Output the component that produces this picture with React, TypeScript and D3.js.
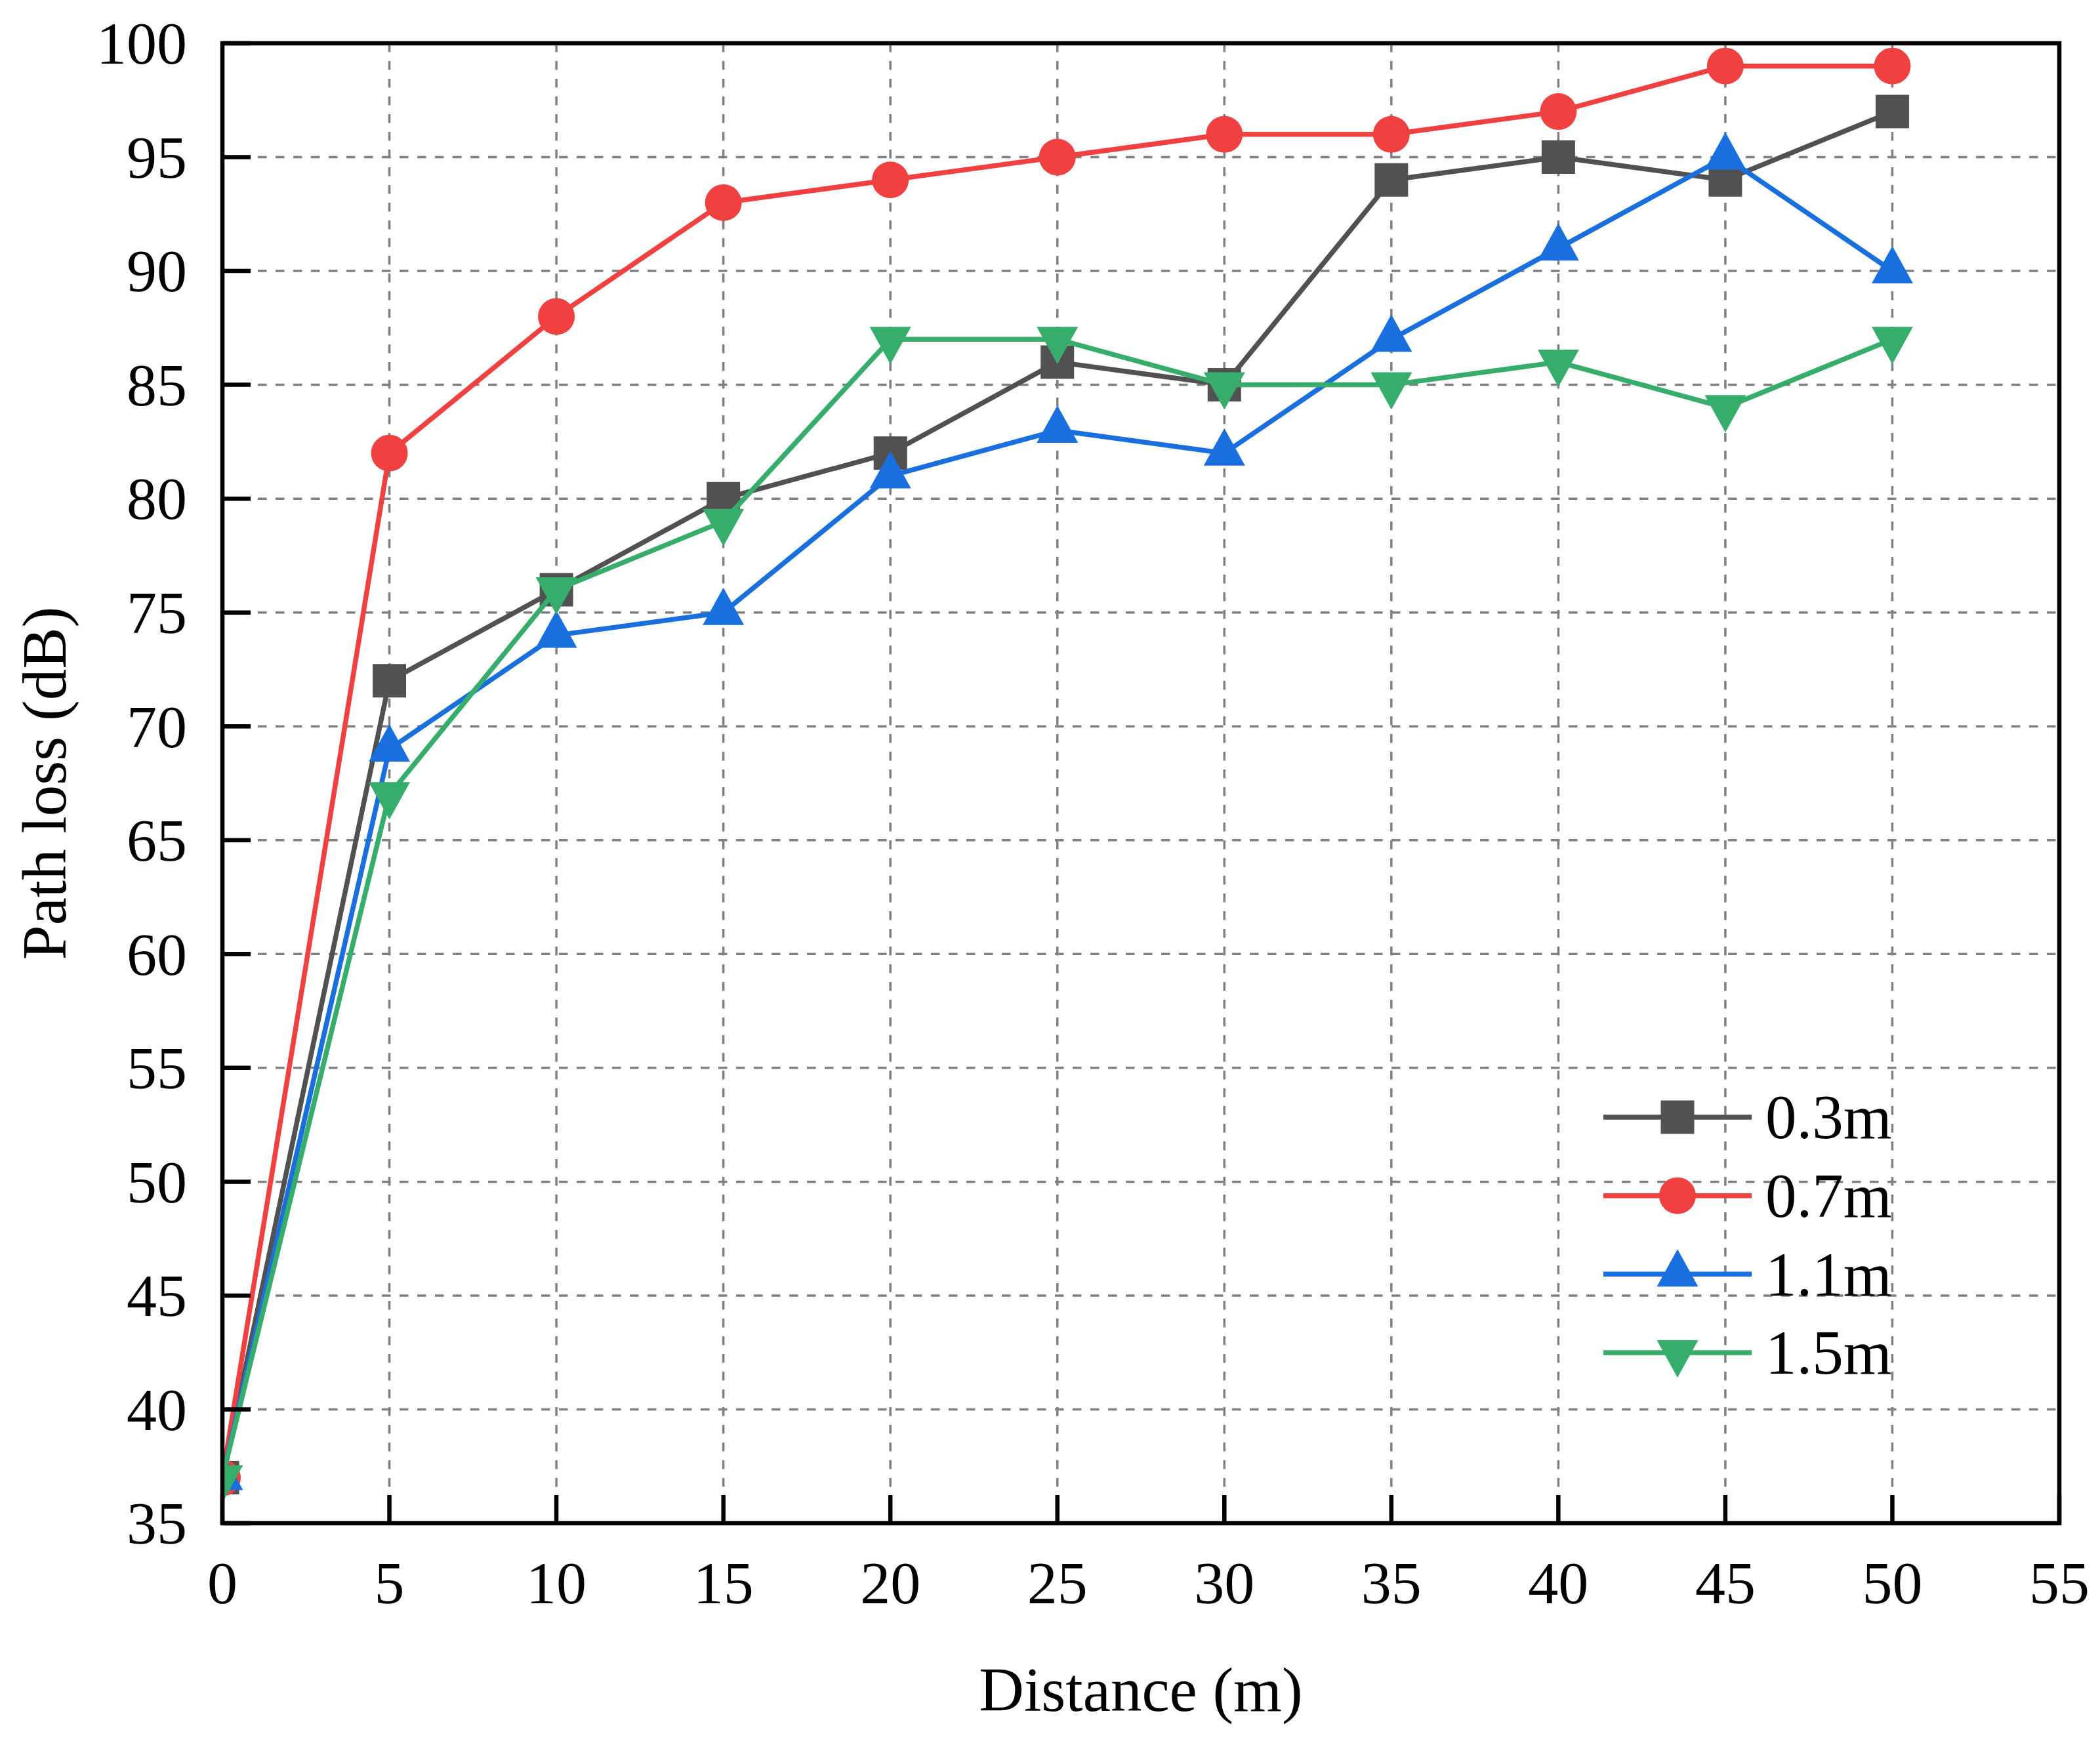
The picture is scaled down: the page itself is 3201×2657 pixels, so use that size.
import React, { useEffect, useRef } from 'react';
import * as d3 from 'd3';

const distances = [0, 5, 10, 15, 20, 25, 30, 35, 40, 45, 50];
const loss03 = [37, 72, 76, 80, 82, 86, 85, 94, 95, 94, 97];
const loss07 = [37, 82, 88, 93, 94, 95, 96, 96, 97, 99, 99];
const loss11 = [37, 69, 74, 75, 81, 83, 82, 87, 91, 95, 90];
const loss15 = [37, 67, 76, 79, 87, 87, 85, 85, 86, 84, 87];
const seriesNames = ['0.3m', '0.7m', '1.1m', '1.5m'];
const xTicks = [0, 5, 10, 15, 20, 25, 30, 35, 40, 45, 50, 55];
const yTicks = [35, 40, 45, 50, 55, 60, 65, 70, 75, 80, 85, 90, 95, 100];

const W = 3201;
const H = 2657;

const App: React.FC = () => {
  const svgRef = useRef<SVGSVGElement>(null);

  useEffect(() => {
    if (!svgRef.current) return;
    const svg = d3.select(svgRef.current);
    svg.selectAll('*').remove();

    const left = 339, right = 3139, top = 66, bottom = 2322;
    const font = '"Liberation Serif", "Times New Roman", serif';
    const colors = ['#515151', '#F14040', '#1A6FDF', '#37AD6B'];
    const shapes = ['square', 'circle', 'up', 'down'];
    const all = [loss03, loss07, loss11, loss15];

    const x = d3.scaleLinear().domain([0, 55]).range([left, right]);
    const y = d3.scaleLinear().domain([35, 100]).range([bottom, top]);

    const marker = (shape: string) => {
      if (shape === 'square') return 'M-25.5,-25.5H25.5V25.5H-25.5Z';
      if (shape === 'circle') return 'M-28,0A28,28 0 1,0 28,0A28,28 0 1,0 -28,0Z';
      if (shape === 'up') return 'M0,-38L31.5,19H-31.5Z';
      return 'M0,38L31.5,-19H-31.5Z';
    };

    svg.append('rect').attr('width', W).attr('height', H).attr('fill', '#fff');

    svg.append('defs').append('clipPath').attr('id', 'plotClip')
      .append('rect').attr('x', left).attr('y', top).attr('width', right - left).attr('height', bottom - top);

    // grid
    const grid = svg.append('g').attr('stroke', '#808080').attr('stroke-width', 3.5).attr('stroke-dasharray', '13.5,13.5');
    grid.selectAll('line.v').data(xTicks.filter(t => t > 0 && t < 55)).enter().append('line')
      .attr('x1', d => x(d)).attr('x2', d => x(d)).attr('y1', top).attr('y2', bottom);
    grid.selectAll('line.h').data(yTicks.filter(t => t > 35 && t < 100)).enter().append('line')
      .attr('x1', left).attr('x2', right).attr('y1', d => y(d)).attr('y2', d => y(d));

    // series
    const plot = svg.append('g').attr('clip-path', 'url(#plotClip)');
    const line = d3.line<number>().x((_, i) => x(distances[i])).y(d => y(d));
    all.forEach((vals, s) => {
      const g = plot.append('g');
      g.append('path').attr('d', line(vals)).attr('fill', 'none').attr('stroke', colors[s]).attr('stroke-width', 7.5).attr('stroke-linejoin', 'round');
      g.selectAll('path.m').data(vals).enter().append('path')
        .attr('d', marker(shapes[s]))
        .attr('transform', (d, i) => `translate(${x(distances[i])},${y(d)})`)
        .attr('fill', colors[s]);
    });

    // ticks
    const ticks = svg.append('g').attr('stroke', '#000').attr('stroke-width', 6.5);
    ticks.selectAll('line.y').data(yTicks).enter().append('line')
      .attr('x1', left).attr('x2', left + 43).attr('y1', d => y(d)).attr('y2', d => y(d));
    ticks.selectAll('line.x').data(xTicks).enter().append('line')
      .attr('x1', d => x(d)).attr('x2', d => x(d)).attr('y1', bottom).attr('y2', bottom - 43);

    // frame
    svg.append('rect').attr('x', left).attr('y', top).attr('width', right - left).attr('height', bottom - top)
      .attr('fill', 'none').attr('stroke', '#000').attr('stroke-width', 6.5);

    // tick labels
    svg.append('g').selectAll('text').data(yTicks).enter().append('text')
      .attr('x', 285).attr('y', d => y(d)).attr('dy', '0.34em').attr('text-anchor', 'end')
      .style('font-family', font).style('font-size', '92px').attr('fill', '#000').text(d => d);
    svg.append('g').selectAll('text').data(xTicks).enter().append('text')
      .attr('x', d => x(d)).attr('y', 2444).attr('text-anchor', 'middle')
      .style('font-family', font).style('font-size', '92px').attr('fill', '#000').text(d => d);

    // axis titles
    svg.append('text').attr('x', (left + right) / 2).attr('y', 2608).attr('text-anchor', 'middle')
      .style('font-family', font).style('font-size', '95px').attr('fill', '#000').text('Distance (m)');
    svg.append('text').attr('transform', `translate(100,${(top + bottom) / 2}) rotate(-90)`).attr('text-anchor', 'middle')
      .style('font-family', font).style('font-size', '95px').attr('fill', '#000').text('Path loss (dB)');

    // legend
    const legY = d3.scaleLinear().domain([0, 3]).range([1703, 2062]);
    const leg = svg.append('g');
    seriesNames.forEach((name, s) => {
      const ly = legY(s);
      leg.append('line').attr('x1', 2444).attr('x2', 2670).attr('y1', ly).attr('y2', ly)
        .attr('stroke', colors[s]).attr('stroke-width', 7.5);
      leg.append('path').attr('d', marker(shapes[s])).attr('transform', `translate(2557,${ly})`).attr('fill', colors[s]);
      leg.append('text').attr('x', 2691).attr('y', ly).attr('dy', '0.34em')
        .style('font-family', font).style('font-size', '95px').attr('fill', '#000').text(name);
    });
  }, []);

  return (
    <div style={{ position: 'absolute', left: 0, top: 0 }}>
      <svg ref={svgRef} width={W} height={H} viewBox={`0 0 ${W} ${H}`} style={{ display: 'block' }} />
    </div>
  );
};

export default App;
